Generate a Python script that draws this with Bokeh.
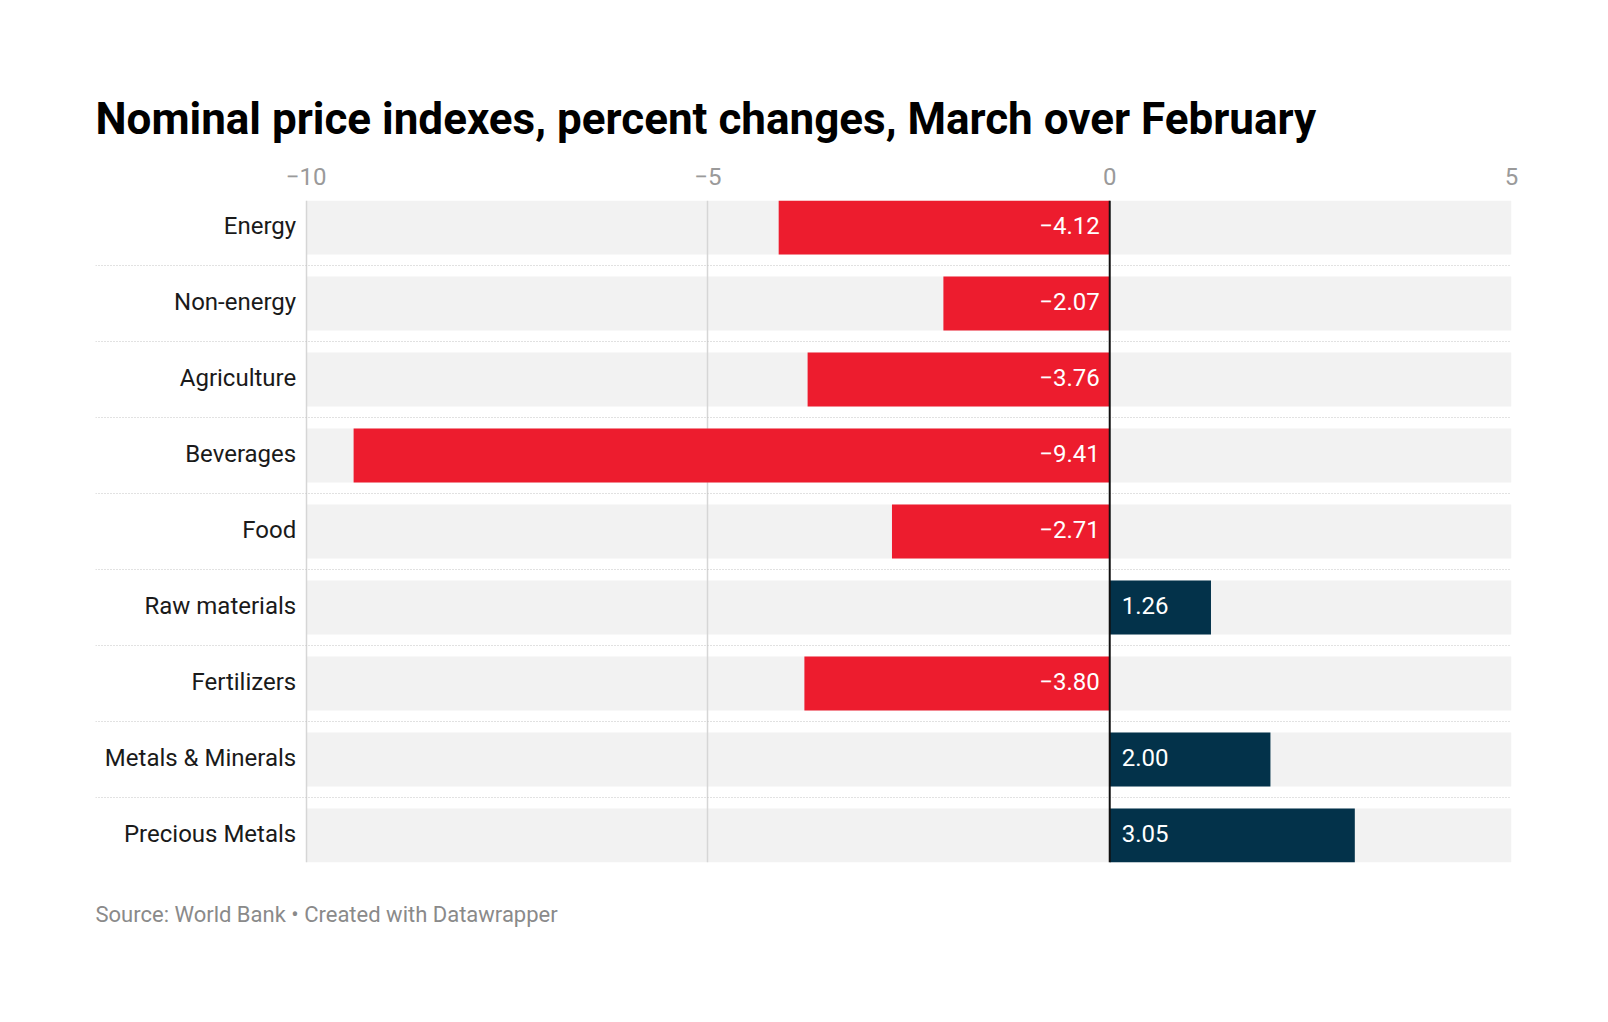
from bokeh.plotting import figure
from bokeh.models import Range1d, FixedTicker, Span, Title, ColumnDataSource
from bokeh.core.properties import value
from bokeh.embed import file_html
from bokeh.resources import INLINE

categories = ["Energy", "Non-energy", "Agriculture", "Beverages", "Food",
              "Raw materials", "Fertilizers", "Metals & Minerals", "Precious Metals"]
values = [-4.12, -2.07, -3.76, -9.41, -2.71, 1.26, -3.80, 2.00, 3.05]
tick_values = [-10, -5, 0, 5]
tick_labels = ["\u221210", "\u22125", "0", "5"]

RED = "#ed1c2e"
NAVY = "#03324a"
FONT = "Roboto"

n = len(categories)
ypos = [n - 1 - i for i in range(n)]

# layout (pixels, canvas coordinates)
W, H = 1592, 1006
frame_left_px, frame_right_px = 95, 1511
axis_left_px = 305.7
frame_top_px, frame_bottom_px = 200, 862
px_per_unit = (frame_right_px - axis_left_px) / 15.0
x_start = -10 - (axis_left_px - frame_left_px) / px_per_unit
slot_px = 76.0
band = 54.0 / slot_px

p = figure(width=W, height=H, output_backend="svg", toolbar_location=None,
           x_range=Range1d(x_start, 5),
           y_range=Range1d(-band / 2, (n - 1) + band / 2),
           x_axis_location="above", y_axis_location=None,
           min_border_left=frame_left_px, min_border_right=W - frame_right_px,
           min_border_top=frame_top_px, min_border_bottom=H - frame_bottom_px)
p.outline_line_color = None
p.background_fill_color = "white"
p.border_fill_color = "white"

# title
p.title.text = "Nominal price indexes, percent changes, March over February"
p.title.text_font = FONT
p.title.text_font_size = "44px"
p.title.text_font_style = "bold"
p.title.text_color = "#000000"
p.title.align = "left"
p.title.standoff = 40

# footer
p.add_layout(Title(text="Source: World Bank \u2022 Created with Datawrapper",
                   text_font=FONT, text_font_size="22px", text_font_style="normal",
                   text_color="#8a8a8a", align="left", standoff=74), "below")

# axis
ax = p.xaxis[0]
ax.ticker = FixedTicker(ticks=tick_values)
ax.major_label_overrides = {float(t): l for t, l in zip(tick_values, tick_labels)}
ax.axis_line_color = None
ax.major_tick_line_color = None
ax.minor_tick_line_color = None
ax.major_label_text_font = FONT
ax.major_label_text_font_size = "24px"
ax.major_label_text_color = "#9a9a9a"
ax.major_label_standoff = 10

p.ygrid.visible = False
p.xgrid.ticker = FixedTicker(ticks=[-10, -5, 5])
p.xgrid.grid_line_color = "#d6d6d6"
p.xgrid.grid_line_width = 1.5
p.xgrid.level = "underlay"

src = ColumnDataSource(dict(cat=categories, val=values, y=ypos,
                            color=[RED if v < 0 else NAVY for v in values]))

# background bands
p.hbar(y="y", left=-10, right=5, height=band, source=src,
       fill_color="#f2f2f2", line_color=None, level="underlay")

# dotted separators
sep_y = [y + 0.5 for y in ypos[1:]]
p.segment(x0=x_start, x1=5, y0=sep_y, y1=sep_y, line_color="#c4c4c4",
          line_width=1.2, line_dash="1 2")

# bars
p.hbar(y="y", left=0, right="val", height=band, source=src,
       fill_color="color", line_color=None)

# zero line
p.add_layout(Span(location=0, dimension="height", line_color="#111111", line_width=2))

# category labels
p.text(x=-10, y="y", text="cat", source=src, x_offset=-10, y_offset=-2,
       text_align="right", text_baseline="middle",
       text_font=value(FONT), text_font_size="24px", text_color="#1a1a1a")

# value labels
neg = ColumnDataSource(dict(y=[y for y, v in zip(ypos, values) if v < 0],
                            lab=[("\u2212%.2f" % -v) for v in values if v < 0]))
pos = ColumnDataSource(dict(y=[y for y, v in zip(ypos, values) if v >= 0],
                            lab=[("%.2f" % v) for v in values if v >= 0]))
p.text(x=0, y="y", text="lab", source=neg, x_offset=-10, y_offset=-2,
       text_align="right", text_baseline="middle",
       text_font=value(FONT), text_font_size="24px", text_color="white")
p.text(x=0, y="y", text="lab", source=pos, x_offset=12, y_offset=-2,
       text_align="left", text_baseline="middle",
       text_font=value(FONT), text_font_size="24px", text_color="white")

open("out.html", "w").write(file_html(p, INLINE))
